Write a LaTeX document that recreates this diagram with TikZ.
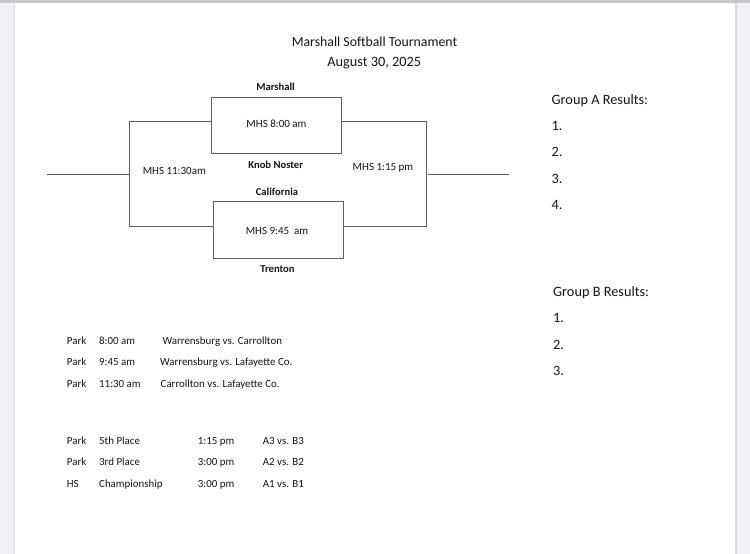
\documentclass[tikz,border=0pt]{standalone}
\usepackage{fontspec}
\setmainfont{Carlito}
\definecolor{pagebg}{HTML}{F0F0F6}
\definecolor{ink}{HTML}{151515}
\definecolor{rule}{HTML}{606060}
\tikzset{
  even/.style={text height=0.75em,text depth=0.25em,inner sep=0pt,yshift=-1pt},
  title/.style={even,font=\fontsize{13.8}{16}\selectfont,text=ink},
  results/.style={even,font=\fontsize{14.3}{16}\selectfont,text=ink,anchor=west},
  team/.style={even,font=\fontsize{10.6}{12}\selectfont\bfseries,text=ink},
  game/.style={even,font=\fontsize{11}{13}\selectfont,text=ink},
  sched/.style={even,font=\fontsize{10.9}{13}\selectfont,text=ink,anchor=west},
  gamebox/.style={draw=rule,line width=0.95pt,fill=white,minimum width=#1,minimum height=56.5pt,inner sep=0pt},
  wire/.style={draw=rule,line width=0.95pt}
}
\begin{document}
\begin{tikzpicture}[x=1pt,y=-1pt]
\useasboundingbox (0,0) rectangle (750,554);
\fill[pagebg] (0,0) rectangle (750,554);
\fill[black!22] (0,0) rectangle (750,3);
\fill[black!14] (13.5,3) rectangle (736.5,554);
\fill[white] (15,3) rectangle (735,554);
% title
\node[title] (t1) at (374.5,42.5) {Marshall Softball Tournament};
\node[title,font=\fontsize{14.3}{16}\selectfont] (t2) at (374.3,62.8) {August 30, 2025};
% boxes
\node[gamebox=130.5pt] (box1) at (276.7,125.5) {};
\node[gamebox=130.5pt] (box2) at (278.5,230) {};
\node[game] (g1) at (276.5,124) {MHS 8:00 am};
\node[game] (g2) at (277,230.5) {MHS 9:45\ \ am};
\node[game] (g3) at (174.3,171.2) {MHS 11:30am};
\node[game] (g4) at (383,167.3) {MHS 1:15 pm};
% teams
\node[team] (m) at (275.5,87.3) {Marshall};
\node[team] (k) at (275.7,164.7) {Knob Noster};
\node[team] (c) at (277,191.7) {California};
\node[team] (tr) at (277.5,269.3) {Trenton};
% bracket
\coordinate (lt) at (129.3,121.5);
\coordinate (lb) at (129.3,226);
\coordinate (lm) at (129.3,174.5);
\coordinate (lstub) at (47,174.5);
\coordinate (rt) at (426,121.5);
\coordinate (rb) at (426,226);
\coordinate (rstub0) at (428,174.5);
\coordinate (rstub1) at (509,174.5);
\draw[wire] (box1.west |- lt) -- (lt) -- (lb) -- (box2.west |- lb);
\draw[wire] (box1.east |- rt) -- (rt) -- (rb) -- (box2.east |- rb);
\draw[wire] (lstub) -- (lm);
\draw[wire] (rstub0) -- (rstub1);
% Group A
\node[results] (ga) at (551.5,100.5) {Group A Results:};
\node[results] (a1) at (551.5,126.6) {1.};
\node[results] (a2) at (551.5,153.4) {2.};
\node[results] (a3) at (551.5,179.9) {3.};
\node[results] (a4) at (551.5,206.4) {4.};
% Group B
\node[results] (gb) at (553,292.5) {Group B Results:};
\node[results] (b1) at (553,319) {1.};
\node[results] (b2) at (553,345.8) {2.};
\node[results] (b3) at (553,372.3) {3.};
% pool schedule
\node[sched] (p1) at (66.7,341) {Park};
\node[sched] (p1t) at (99,341) {8:00 am};
\node[sched] (p1g) at (162.3,341) {Warrensburg vs. Carrollton};
\node[sched] (p2) at (66.7,362.2) {Park};
\node[sched] (p2t) at (99,362.2) {9:45 am};
\node[sched] (p2g) at (159.8,362.2) {Warrensburg vs. Lafayette Co.};
\node[sched] (p3) at (66.7,383.7) {Park};
\node[sched] (p3t) at (99,383.7) {11:30 am};
\node[sched] (p3g) at (160.5,383.7) {Carrollton vs. Lafayette Co.};
% placement schedule
\node[sched] (q1) at (66.7,441) {Park};
\node[sched] (q1n) at (99,441) {5th Place};
\node[sched] (q1t) at (197.7,441) {1:15 pm};
\node[sched] (q1g) at (262.7,441) {A3 vs. B3};
\node[sched] (q2) at (66.7,462.2) {Park};
\node[sched] (q2n) at (99,462.2) {3rd Place};
\node[sched] (q2t) at (197.7,462.2) {3:00 pm};
\node[sched] (q2g) at (262.7,462.2) {A2 vs. B2};
\node[sched] (q3) at (66.7,483.7) {HS};
\node[sched] (q3n) at (99,483.7) {Championship};
\node[sched] (q3t) at (197.7,483.7) {3:00 pm};
\node[sched] (q3g) at (262.7,483.7) {A1 vs. B1};
\end{tikzpicture}
\end{document}
